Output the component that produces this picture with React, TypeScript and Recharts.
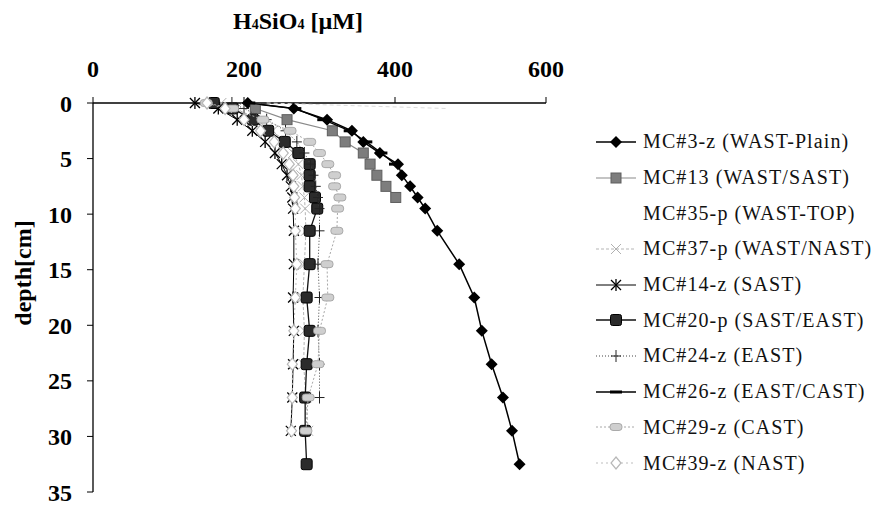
import React from "react";
import { ScatterChart, Scatter, XAxis, YAxis, Legend } from "recharts";

const SERIF = "'Liberation Serif', 'Times New Roman', serif";

// sampling depths (cm) shared by all cores
const depths = [0, 0.5, 1.5, 2.5, 3.5, 4.5, 5.5, 6.5, 7.5, 8.5, 9.5, 11.5, 14.5, 17.5, 20.5, 23.5, 26.5, 29.5, 32.5];

// H4SiO4 concentrations (µM) per core, null = not sampled
const mc3 = [205, 266, 310, 343, 358, 380, 404, 409, 420, 430, 440, 456, 485, 505, 515, 528, 543, 555, 565];
const mc13 = [null, 215, 257, 317, 334, 358, 367, 376, 388, 401, null, null, null, null, null, null, null, null, null];
const mc35 = [230, 470, null, null, null, null, null, null, null, null, null, null, null, null, null, null, null, null, null];
const mc37 = [170, 190, 215, 238, 255, 265, 272, 276, 278, 280, 281, 282, 280, 278, 280, 279, 282, 285, null];
const mc14 = [135, 166, 191, 211, 228, 241, 250, 257, 262, 264, 265, 266, 266, 265, 266, 265, 264, 262, null];
const mc20 = [160, 185, 212, 232, 254, 272, 287, 287, 287, 294, 297, 287, 287, 283, 287, 283, 281, 281, 283];
const mc24 = [184, 200, 230, 255, 270, 280, 288, 292, 295, 298, 300, 300, 298, 300, 298, 300, 300, null, null];
const mc26 = [207, 268, 305, 340, 362, 382, 400, null, null, null, null, null, null, null, null, null, null, null, null];
const mc29 = [150, 185, 225, 261, 287, 300, 311, 320, 320, 327, 324, 323, 310, 311, 300, 298, 285, 282, null];
const mc39 = [151, 175, 200, 222, 240, 252, 260, 265, 266, 267, 268, 268, 270, 268, 266, 264, 264, 263, null];

const xTicks = [0, 200, 400, 600];
const yTicks = [0, 5, 10, 15, 20, 25, 30, 35];

type MarkerKind = "diamond" | "graySquare" | "none" | "lightX" | "asterisk" | "darkSquare" | "plus" | "bar" | "lightOval" | "lightDiamond";

const toPoints = (vals: (number | null)[]) =>
  depths.map((depth, i) => ({ depth, value: vals[i] })).filter((p) => p.value != null);

const series: { name: string; vals: (number | null)[]; stroke: string; width: number; dash?: string; marker: MarkerKind }[] = [
  { name: "MC#3-z (WAST-Plain)", vals: mc3, stroke: "#000", width: 1.5, marker: "diamond" },
  { name: "MC#13 (WAST/SAST)", vals: mc13, stroke: "#8a8a8a", width: 1.2, marker: "graySquare" },
  { name: "MC#35-p (WAST-TOP)", vals: mc35, stroke: "#dcdcdc", width: 1, dash: "4 3", marker: "none" },
  { name: "MC#37-p (WAST/NAST)", vals: mc37, stroke: "#b5b5b5", width: 1, dash: "3 2", marker: "lightX" },
  { name: "MC#14-z (SAST)", vals: mc14, stroke: "#000", width: 1, marker: "asterisk" },
  { name: "MC#20-p (SAST/EAST)", vals: mc20, stroke: "#111", width: 1.3, marker: "darkSquare" },
  { name: "MC#24-z (EAST)", vals: mc24, stroke: "#444", width: 1, dash: "1 2", marker: "plus" },
  { name: "MC#26-z (EAST/CAST)", vals: mc26, stroke: "#000", width: 1.3, marker: "bar" },
  { name: "MC#29-z (CAST)", vals: mc29, stroke: "#a8a8a8", width: 1, dash: "2 2", marker: "lightOval" },
  { name: "MC#39-z (NAST)", vals: mc39, stroke: "#bdbdbd", width: 1, dash: "2 3", marker: "lightDiamond" },
];

function marker(kind: MarkerKind, cx: number, cy: number) {
  switch (kind) {
    case "diamond":
      return <polygon points={`${cx},${cy - 6} ${cx + 6},${cy} ${cx},${cy + 6} ${cx - 6},${cy}`} fill="#000" />;
    case "graySquare":
      return <rect x={cx - 5} y={cy - 5} width={10} height={10} fill="#7d7d7d" stroke="#5e5e5e" strokeWidth={1} />;
    case "lightX":
      return (
        <g stroke="#b0b0b0" strokeWidth={1}>
          <line x1={cx - 5} y1={cy - 5} x2={cx + 5} y2={cy + 5} />
          <line x1={cx - 5} y1={cy + 5} x2={cx + 5} y2={cy - 5} />
        </g>
      );
    case "asterisk":
      return (
        <g stroke="#000" strokeWidth={1.3}>
          <line x1={cx - 5} y1={cy - 5} x2={cx + 5} y2={cy + 5} />
          <line x1={cx - 5} y1={cy + 5} x2={cx + 5} y2={cy - 5} />
          <line x1={cx} y1={cy - 6} x2={cx} y2={cy + 6} />
        </g>
      );
    case "darkSquare":
      return <rect x={cx - 5.5} y={cy - 5.5} width={11} height={11} rx={2} fill="#2b2b2b" stroke="#000" strokeWidth={1} />;
    case "plus":
      return (
        <g stroke="#222" strokeWidth={1}>
          <line x1={cx} y1={cy - 6} x2={cx} y2={cy + 6} />
          <line x1={cx - 5} y1={cy} x2={cx + 5} y2={cy} />
        </g>
      );
    case "bar":
      return <rect x={cx - 6} y={cy - 1.5} width={12} height={3} fill="#000" />;
    case "lightOval":
      return <rect x={cx - 6} y={cy - 3.5} width={12} height={7} rx={3} fill="#cfcfcf" stroke="#9a9a9a" strokeWidth={0.8} />;
    case "lightDiamond":
      return <polygon points={`${cx},${cy - 6} ${cx + 5},${cy} ${cx},${cy + 6} ${cx - 5},${cy}`} fill="#fff" stroke="#b8b8b8" strokeWidth={1.2} />;
    default:
      return <g />;
  }
}

const LegendRows = () => (
  <div style={{ fontFamily: SERIF, fontSize: 20, color: "#111" }}>
    {series.map((s) => (
      <div key={s.name} style={{ height: 35.7, display: "flex", alignItems: "center" }}>
        <svg width={44} height={20} style={{ flex: "none" }}>
          {s.marker !== "none" && (
            <line x1={0} x2={40} y1={10} y2={10} stroke={s.stroke} strokeWidth={s.width} strokeDasharray={s.dash} />
          )}
          {marker(s.marker, 20, 10)}
        </svg>
        <span style={{ marginLeft: 3, letterSpacing: 1.1, whiteSpace: "nowrap" }}>{s.name}</span>
      </div>
    ))}
  </div>
);

const tickStyle = { fontFamily: SERIF, fontWeight: 700, fontSize: 24, fill: "#000" };

export default function App() {
  return (
    <div style={{ position: "absolute", left: 0, top: 0, width: 881, height: 507, background: "#fff" }}>
      <div
        style={{
          position: "absolute",
          left: 188,
          top: 7,
          width: 220,
          textAlign: "center",
          fontFamily: SERIF,
          fontWeight: 700,
          fontSize: 24,
          lineHeight: "28px",
          zIndex: 2,
        }}
      >
        H<span style={{ fontSize: 14 }}>4</span>SiO<span style={{ fontSize: 14 }}>4</span> [µM]
      </div>
      <ScatterChart width={881} height={507} margin={{ top: 63, left: 53, right: 335, bottom: 15 }}>
        <XAxis
          xAxisId={0}
          type="number"
          dataKey="value"
          orientation="top"
          domain={[0, 600]}
          ticks={xTicks}
          height={40}
          tickSize={6}
          tickMargin={20}
          axisLine={{ stroke: "#000", strokeWidth: 1.3 }}
          tickLine={{ stroke: "#000" }}
          tick={tickStyle}
          allowDataOverflow
        />
        <YAxis
          yAxisId={0}
          type="number"
          dataKey="depth"
          domain={[0, 35]}
          ticks={yTicks}
          reversed
          width={40}
          tickSize={6}
          tickMargin={15}
          axisLine={{ stroke: "#000", strokeWidth: 1.3 }}
          tickLine={{ stroke: "#000" }}
          tick={tickStyle}
          label={{
            content: () => (
              <text
                x={23}
                y={273}
                transform="rotate(-90 23 273)"
                textAnchor="middle"
                dominantBaseline="central"
                style={{ fontFamily: SERIF, fontWeight: 700, fontSize: 24, fill: "#000" }}
              >
                depth[cm]
              </text>
            ),
          }}
        />
        <Legend
          layout="vertical"
          align="center"
          verticalAlign="middle"
          content={() => <LegendRows />}
          wrapperStyle={{ left: 596, top: 124, width: 285 }}
        />
        {series.map((s) => (
          <Scatter
            key={s.name}
            name={s.name}
            data={toPoints(s.vals)}
            isAnimationActive={false}
            line={{ stroke: s.stroke, strokeWidth: s.width, strokeDasharray: s.dash }}
            lineType="joint"
            shape={(p: any) => marker(s.marker, p.cx, p.cy)}
          />
        ))}
      </ScatterChart>
    </div>
  );
}
